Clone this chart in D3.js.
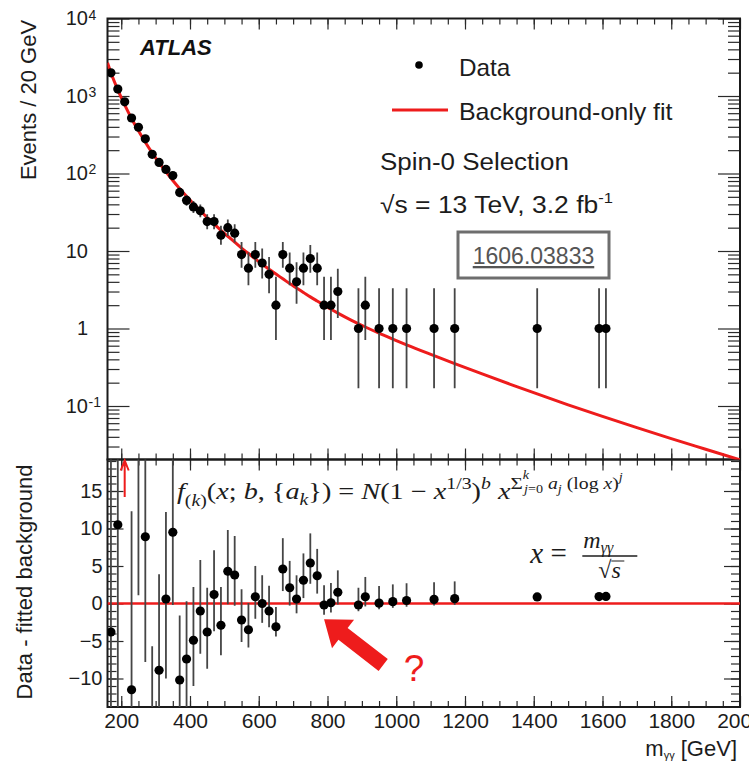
<!DOCTYPE html>
<html>
<head>
<meta charset="utf-8">
<script src="https://cdn.jsdelivr.net/npm/d3@7"></script>
<style>
body { margin: 0; background: #fff; }
svg { display: block; font-family: "Liberation Sans", Arial, Helvetica, sans-serif; }
</style>
</head>
<body>
<div id="chart"></div>
<script>
// bin centres in GeV (20 GeV bins), empty bins are left out
const mass = [170, 190, 210, 230, 250, 270, 290, 310, 330, 350, 370, 390, 410, 430, 450, 470, 490, 510, 530, 550,
  570, 590, 610, 630, 650, 670, 690, 710, 730, 750, 770, 790, 810, 830, 890, 910, 950, 990, 1030, 1110, 1170,
  1410, 1590, 1610];
const events = [1990, 1230, 840, 520, 395, 280, 177, 139, 113, 94, 57, 45, 37, 33, 24, 24, 16, 20, 17, 9,
  6, 9, 7, 5, 2, 9, 6, 4, 6, 8, 6, 2, 2, 3, 1, 2, 1, 1, 1, 1, 1,
  1, 1, 1];
const errLo = [44.6, 35.1, 29.0, 22.8, 19.9, 16.7, 13.3, 11.8, 10.6, 9.7, 7.5, 6.7, 6.1, 5.7, 4.9, 4.9, 4.0, 4.4, 4.1, 2.94,
  2.38, 2.94, 2.58, 2.16, 1.29, 2.94, 2.38, 1.91, 2.38, 2.77, 2.38, 1.29, 1.29, 1.63, 0.83, 1.29, 0.83, 0.83, 0.83, 0.83, 0.83,
  0.83, 0.83, 0.83];
const errHi = [45.6, 36.1, 30.0, 23.8, 20.9, 17.7, 14.3, 12.8, 11.6, 10.7, 8.6, 7.7, 7.1, 6.8, 5.9, 5.9, 5.1, 5.5, 5.2, 4.11,
  3.58, 4.11, 3.77, 3.38, 2.64, 4.11, 3.58, 3.16, 3.58, 3.95, 3.58, 2.64, 2.64, 2.92, 2.30, 2.64, 2.30, 2.30, 2.30, 2.30, 2.30,
  2.30, 2.30, 2.30];

// data - fitted background, same bins
const residual = [-3.8, 10.5, 50, -11.5, 21, 8.9, -20, -8.9, 0.6, 9.5, -10.2, -7.4, -4.9, -1.0, -3.8, 1.2, -2.9, 4.3, 3.8, -2.2,
  -3.5, 0.9, 0.0, -1.0, -3.1, 4.6, 2.1, 0.6, 3.1, 5.4, 3.7, -0.2, 0.1, 1.5, -0.2, 0.9, 0.05, 0.25, 0.4, 0.55, 0.65,
  0.88, 0.93, 0.94];
const residualNoBar = [1410, 1590, 1610];

// background-only fit
const fitMass = [160, 170, 190, 210, 230, 250, 270, 290, 310, 330, 350, 370, 390, 410, 430, 450, 470, 490, 510, 530,
  550, 570, 590, 610, 630, 650, 670, 690, 710, 730, 750, 770, 790, 810, 830, 870, 910, 950, 990, 1030,
  1110, 1170, 1250, 1330, 1410, 1500, 1600, 1700, 1800, 1900, 2000];
const fitEvents = [2680, 1995, 1202, 769, 513, 355, 253, 185, 138, 105, 81.3, 63.8, 50.7, 40.7, 33.0, 27.0, 22.3, 18.5, 15.5, 13.0,
  10.9, 9.29, 7.91, 6.78, 5.82, 5.04, 4.38, 3.80, 3.33, 2.92, 2.56, 2.26, 2.00, 1.77, 1.58, 1.274, 1.045, 0.869, 0.730, 0.615,
  0.446, 0.352, 0.259, 0.192, 0.143, 0.1035, 0.0733, 0.0525, 0.0380, 0.0277, 0.0202];

const xTicks = [200, 400, 600, 800, 1000, 1200, 1400, 1600, 1800, 2000];
const yUpTicks = [0.1, 1, 10, 100, 1000, 10000];
const yLowTicks = [-10, -5, 0, 5, 10, 15];

const W = 749, H = 766;
const left = 107.5, right = 740, topUp = 18.5, split = 459.5, bottomLow = 707;
const red = '#ee1c1c';
const serif = '"Liberation Serif", "Times New Roman", serif';

const svg = d3.select('#chart').append('svg')
  .attr('width', W)
  .attr('height', H);

const x = d3.scaleLinear().domain([160, 2000]).range([left, right]);
const yUp = d3.scaleLog().domain([0.0204, 1e4]).range([split, topUp]);
const yLow = d3.scaleLinear().domain([-13.8, 19.2]).range([bottomLow, split]);

const defs = svg.append('defs');
defs.append('clipPath').attr('id', 'clip-up').append('rect')
  .attr('x', left).attr('y', topUp).attr('width', right - left).attr('height', split - topUp);
defs.append('clipPath').attr('id', 'clip-low').append('rect')
  .attr('x', left).attr('y', split).attr('width', right - left).attr('height', bottomLow - split);

// minor tick values
const logMinor = [];
for (let e = -2; e < 4; e++) for (let k = 2; k <= 9; k++) logMinor.push(k * Math.pow(10, e));
const yUpMinor = logMinor.filter(v => v > 0.0204 && v < 1e4);
const xMinor = d3.range(200, 2000, 50);
const yLowMinor = d3.range(-13, 20, 1);

function tidy(g, size) {
  g.select('.domain').remove();
  g.attr('font-family', null).attr('font-size', null);
  g.selectAll('.tick line').attr('stroke', '#2a2a2a').attr('stroke-width', 1.2);
  g.selectAll('.tick text').attr('fill', '#1c1c1c').attr('font-size', size);
}

const axes = svg.append('g');
const noLabel = () => '';

// upper panel ticks
axes.append('g').attr('transform', `translate(${left},0)`)
  .call(d3.axisLeft(yUp).tickValues(yUpMinor).tickSize(-12).tickFormat(noLabel)).call(tidy);
const upLabels = axes.append('g').attr('transform', `translate(${left},0)`)
  .call(d3.axisLeft(yUp).tickValues(yUpTicks).tickSize(-22).tickPadding(19.5)
    .tickFormat(d => (d === 1 ? '1' : '10')))
  .call(tidy, 20);
upLabels.selectAll('.tick').filter(d => d !== 1 && d !== 10)
  .append('text')
  .attr('x', -19)
  .attr('y', 0.5)
  .attr('fill', '#1c1c1c')
  .attr('font-size', 14)
  .attr('text-anchor', 'start')
  .text(d => String(Math.round(Math.log10(d))));
axes.append('g').attr('transform', `translate(${right},0)`)
  .call(d3.axisRight(yUp).tickValues(yUpMinor).tickSize(-12).tickFormat(noLabel)).call(tidy);
axes.append('g').attr('transform', `translate(${right},0)`)
  .call(d3.axisRight(yUp).tickValues(yUpTicks).tickSize(-22).tickFormat(noLabel)).call(tidy);
[[topUp, d3.axisTop], [split, d3.axisBottom]].forEach(([yy, ax]) => {
  axes.append('g').attr('transform', `translate(0,${yy})`)
    .call(ax(x).tickValues(xMinor).tickSize(-6).tickFormat(noLabel)).call(tidy);
  axes.append('g').attr('transform', `translate(0,${yy})`)
    .call(ax(x).tickValues(xTicks).tickSize(-11).tickFormat(noLabel)).call(tidy);
});

// lower panel ticks
axes.append('g').attr('transform', `translate(${left},0)`)
  .call(d3.axisLeft(yLow).tickValues(yLowMinor).tickSize(-9).tickFormat(noLabel)).call(tidy);
axes.append('g').attr('transform', `translate(${left},0)`)
  .call(d3.axisLeft(yLow).tickValues(yLowTicks).tickSize(-16).tickPadding(5).tickFormat(d3.format('d')))
  .call(tidy, 20);
axes.append('g').attr('transform', `translate(${right},0)`)
  .call(d3.axisRight(yLow).tickValues(yLowMinor).tickSize(-9).tickFormat(noLabel)).call(tidy);
axes.append('g').attr('transform', `translate(${right},0)`)
  .call(d3.axisRight(yLow).tickValues(yLowTicks).tickSize(-16).tickFormat(noLabel)).call(tidy);
axes.append('g').attr('transform', `translate(0,${split})`)
  .call(d3.axisTop(x).tickValues(xMinor).tickSize(-6).tickFormat(noLabel)).call(tidy);
axes.append('g').attr('transform', `translate(0,${split})`)
  .call(d3.axisTop(x).tickValues(xTicks).tickSize(-11).tickFormat(noLabel)).call(tidy);
axes.append('g').attr('transform', `translate(0,${bottomLow})`)
  .call(d3.axisBottom(x).tickValues(xMinor).tickSize(-6).tickFormat(noLabel)).call(tidy);
axes.append('g').attr('transform', `translate(0,${bottomLow})`)
  .call(d3.axisBottom(x).tickValues(xTicks).tickSize(-11).tickPadding(6).tickFormat(d3.format('d')))
  .call(tidy, 21);

// frames
[[topUp, split], [split, bottomLow]].forEach(([y0, y1]) => {
  svg.append('rect')
    .attr('x', left).attr('y', y0)
    .attr('width', right - left).attr('height', y1 - y0)
    .attr('fill', 'none')
    .attr('stroke', '#1a1a1a')
    .attr('stroke-width', 2);
});

const rows = mass.map((m, i) => ({ m, n: events[i], lo: errLo[i], hi: errHi[i], r: residual[i] }));
const fit = fitMass.map((m, i) => ({ m, v: fitEvents[i] }));

// upper panel: fit and data
const up = svg.append('g').attr('clip-path', 'url(#clip-up)');
up.append('path')
  .datum(fit)
  .attr('fill', 'none')
  .attr('stroke', red)
  .attr('stroke-width', 3)
  .attr('d', d3.line().curve(d3.curveMonotoneX).x(d => x(d.m)).y(d => yUp(d.v)));
up.selectAll('.err')
  .data(rows)
  .join('line')
  .attr('x1', d => x(d.m)).attr('x2', d => x(d.m))
  .attr('y1', d => yUp(d.n + d.hi)).attr('y2', d => yUp(Math.max(d.n - d.lo, 0.001)))
  .attr('stroke', '#454545')
  .attr('stroke-width', 1.8);
up.selectAll('.pt')
  .data(rows)
  .join('circle')
  .attr('cx', d => x(d.m)).attr('cy', d => yUp(d.n))
  .attr('r', 4.6)
  .attr('fill', '#000');

// lower panel: zero line and residuals
const low = svg.append('g').attr('clip-path', 'url(#clip-low)');
low.append('path')
  .datum([160, 2000])
  .attr('stroke', red)
  .attr('stroke-width', 2.5)
  .attr('d', d3.line().x(d => x(d)).y(() => yLow(0)));
low.selectAll('.err')
  .data(rows.filter(d => !residualNoBar.includes(d.m)))
  .join('line')
  .attr('x1', d => x(d.m)).attr('x2', d => x(d.m))
  .attr('y1', d => yLow(d.r + d.hi)).attr('y2', d => yLow(d.r - d.lo))
  .attr('stroke', '#454545')
  .attr('stroke-width', 1.8);
low.selectAll('.pt')
  .data(rows)
  .join('circle')
  .attr('cx', d => x(d.m)).attr('cy', d => yLow(d.r))
  .attr('r', 4.6)
  .attr('fill', '#000');

// off-scale marker for the 210 GeV bin
const ax210 = x(210);
svg.append('path')
  .attr('d', `M${ax210},${yLow(14.2)}V${split + 1}M${ax210 - 4},${split + 11}L${ax210},${split + 1}L${ax210 + 4},${split + 11}`)
  .attr('fill', 'none')
  .attr('stroke', red)
  .attr('stroke-width', 2);

// stretch a text horizontally to a measured width
function fitWidth(sel, x0, width) {
  const w = sel.node().getBBox().width;
  sel.attr('transform', `translate(${x0},0) scale(${width / w},1) translate(${-x0},0)`);
}

// texts, upper panel
svg.append('text')
  .attr('x', 140).attr('y', 55)
  .attr('font-size', 22).attr('font-weight', 'bold').attr('font-style', 'italic')
  .attr('fill', '#111')
  .text('ATLAS');

svg.append('circle').attr('cx', 419).attr('cy', 65).attr('r', 3.8).attr('fill', '#000');
svg.append('line').attr('x1', 392).attr('x2', 448).attr('y1', 110).attr('y2', 110)
  .attr('stroke', red).attr('stroke-width', 3);
const legendText = svg.append('g').attr('font-size', 24).attr('fill', '#1c1c1c');
fitWidth(legendText.append('text').attr('x', 459).attr('y', 76).text('Data'), 459, 52);
fitWidth(legendText.append('text').attr('x', 459).attr('y', 120).text('Background-only fit'), 459, 214);
fitWidth(legendText.append('text').attr('x', 380).attr('y', 170).text('Spin-0 Selection'), 380, 189);
const lumi = legendText.append('text').attr('x', 380).attr('y', 213);
lumi.append('tspan').text('\u221As = 13 TeV, 3.2 fb');
lumi.append('tspan').attr('font-size', 15).attr('dy', -10).text('-1');
fitWidth(lumi, 380, 233);

svg.append('rect')
  .attr('x', 458).attr('y', 232).attr('width', 151).attr('height', 46)
  .attr('fill', 'none').attr('stroke', '#6e6e6e').attr('stroke-width', 3);
svg.append('text')
  .attr('x', 533.5).attr('y', 264)
  .attr('text-anchor', 'middle')
  .attr('font-size', 23)
  .attr('fill', '#555')
  .attr('text-decoration', 'underline')
  .text('1606.03833');

// axis titles
svg.append('text')
  .attr('transform', 'translate(36,100) rotate(-90)')
  .attr('text-anchor', 'middle').attr('font-size', 22).attr('fill', '#1c1c1c')
  .text('Events / 20 GeV');
svg.append('text')
  .attr('transform', 'translate(32,582) rotate(-90)')
  .attr('text-anchor', 'middle').attr('font-size', 22).attr('fill', '#1c1c1c')
  .text('Data - fitted background');
const xTitle = svg.append('text')
  .attr('x', 737).attr('y', 756)
  .attr('text-anchor', 'end').attr('font-size', 22).attr('fill', '#1c1c1c');
xTitle.append('tspan').text('m');
xTitle.append('tspan').attr('font-size', 11).attr('dy', 3).text('\u03B3\u03B3');
xTitle.append('tspan').attr('dy', -3).text(' [GeV]');

// fit function, lower panel
function mathText(xx, yy, size, parts) {
  const t = svg.append('text')
    .attr('x', xx).attr('y', yy)
    .attr('font-family', serif)
    .attr('font-size', size)
    .attr('fill', '#1c1c1c');
  let prev = 0;
  parts.forEach(p => {
    const o = p.o || 0;
    const s = p.s || 1;
    const ts = t.append('tspan')
      .attr('dy', (o - prev) * size)
      .attr('font-size', size * s)
      .attr('font-style', p.i ? 'italic' : 'normal')
      .text(p.t);
    if (p.dx) ts.attr('dx', p.dx);
    prev = o;
  });
  return t;
}

const formula = mathText(177, 499, 23, [
  { t: 'f', i: true },
  { t: '(', o: 0.3, s: 0.7 }, { t: 'k', i: true, o: 0.3, s: 0.7 }, { t: ')', o: 0.3, s: 0.7 },
  { t: '(' }, { t: 'x', i: true }, { t: '; ' }, { t: 'b', i: true }, { t: ', {' },
  { t: 'a', i: true }, { t: 'k', i: true, o: 0.25, s: 0.7 }, { t: '}) = ' },
  { t: 'N', i: true }, { t: '(1 \u2212 ' }, { t: 'x', i: true },
  { t: '1/3', o: -0.45, s: 0.7 }, { t: ')' }, { t: 'b', i: true, o: -0.45, s: 0.7 },
  { t: ' x', i: true },
  { t: '\u03A3', o: -0.45, s: 0.75 },
  { t: 'k', i: true, o: -0.85, s: 0.5 },
  { t: 'j', i: true, o: -0.25, s: 0.5, dx: -4 }, { t: '=0', o: -0.25, s: 0.5 },
  { t: ' a', i: true, o: -0.45, s: 0.7 }, { t: 'j', i: true, o: -0.25, s: 0.5 },
  { t: ' (log ', o: -0.45, s: 0.7 }, { t: 'x', i: true, o: -0.45, s: 0.7 }, { t: ')', o: -0.45, s: 0.7 },
  { t: 'j', i: true, o: -0.8, s: 0.5 }
]);
fitWidth(formula, 177, 446);

// x = m / sqrt(s)
const fx = x(1390), fy = yLow(5.4);
svg.append('text').attr('x', fx).attr('y', fy)
  .attr('font-family', serif).attr('font-size', 29).attr('fill', '#1c1c1c')
  .html('<tspan font-style="italic">x</tspan> =');
svg.append('line')
  .attr('x1', fx + 52).attr('x2', fx + 107).attr('y1', fy - 7).attr('y2', fy - 7)
  .attr('stroke', '#1c1c1c').attr('stroke-width', 1.4);
const num = svg.append('text').attr('x', fx + 53).attr('y', fy - 15)
  .attr('font-family', serif).attr('font-size', 24).attr('fill', '#1c1c1c');
num.append('tspan').attr('font-style', 'italic').text('m');
num.append('tspan').attr('font-style', 'italic').attr('font-size', 16).attr('dy', 5).text('\u03B3\u03B3');
svg.append('text').attr('x', fx + 68).attr('y', fy + 15)
  .attr('font-family', serif).attr('font-size', 24).attr('fill', '#1c1c1c')
  .html('\u221A<tspan font-style="italic">s</tspan>');
svg.append('line')
  .attr('x1', fx + 81).attr('x2', fx + 94).attr('y1', fy - 2).attr('y2', fy - 2)
  .attr('stroke', '#1c1c1c').attr('stroke-width', 1);

// annotation arrow and question mark
const tip = [x(790), yLow(-2.1)];
const tail = [x(962), yLow(-8.2)];
const len = Math.hypot(tip[0] - tail[0], tip[1] - tail[1]);
const u = [(tip[0] - tail[0]) / len, (tip[1] - tail[1]) / len];
const nv = [-u[1], u[0]];
const headLen = 24, headHalf = 18, shaftHalf = 7.5;
const base = [tip[0] - u[0] * headLen, tip[1] - u[1] * headLen];
const pt = (p, k) => [p[0] + nv[0] * k, p[1] + nv[1] * k];
svg.append('polygon')
  .attr('points', [pt(tail, shaftHalf), pt(base, shaftHalf), pt(base, headHalf), tip,
    pt(base, -headHalf), pt(base, -shaftHalf), pt(tail, -shaftHalf)].map(p => p.join(',')).join(' '))
  .attr('fill', red);
svg.append('text')
  .attr('x', x(1052)).attr('y', yLow(-10.3))
  .attr('text-anchor', 'middle')
  .attr('font-size', 37)
  .attr('fill', red)
  .text('?');
</script>
</body>
</html>
